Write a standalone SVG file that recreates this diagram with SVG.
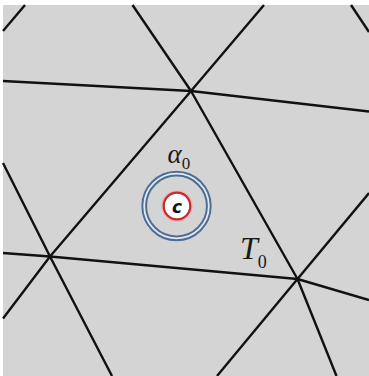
<svg xmlns="http://www.w3.org/2000/svg" width="369" height="376" viewBox="0 0 369 376">
<style>
.e{fill:none;stroke:#111;stroke-width:2.4;stroke-linecap:butt;stroke-linejoin:round}
.lab{font-family:"Liberation Serif","Times New Roman",serif;fill:#1a1a1a}
.it{font-style:italic}
</style>
<rect x="0" y="0" width="369" height="376" fill="#ffffff"/>
<rect x="3" y="5" width="366" height="371" fill="#d4d4d4"/>
<g id="connectors">
<path class="e" d="M3,81 L191,91 L369,111.5"/>
<path class="e" d="M3,253 L50,256.5 L297.5,279 L369,300"/>
<path class="e" d="M132.5,5 L191,91 L297.5,279 L336.5,376"/>
<path class="e" d="M264,5 L191,91 L50,256.5 L3,318.5"/>
<path class="e" d="M3,31 L25,5"/>
<path class="e" d="M3,163 L50,256.5 L112,376"/>
<path class="e" d="M369,193 L297.5,279 L217,376"/>
<path class="e" d="M351,5 L369,32"/>
</g>
<g id="node-alpha">
<circle cx="176.5" cy="206" r="32.3" fill="none" stroke="#e4e9ef" stroke-width="6"/>
<circle cx="176.5" cy="206" r="34.2" fill="none" stroke="#4c6d95" stroke-width="2"/>
<circle cx="176.5" cy="206" r="30.4" fill="none" stroke="#4c6d95" stroke-width="2"/>
</g>
<g id="node-c">
<circle cx="177" cy="206" r="15" fill="none" stroke="#ecb4b4" stroke-width="1.5"/>
<circle cx="177" cy="206" r="13.3" fill="#ffffff" stroke="#c42a2e" stroke-width="2.2"/>
<text x="177" y="212.5" text-anchor="middle" font-family="'DejaVu Sans','Liberation Sans',sans-serif" font-weight="bold" font-style="italic" font-size="17" fill="#111">c</text>
</g>
<g id="label-alpha0">
<text class="lab" x="167.5" y="162.5" font-size="27"><tspan class="it">α</tspan><tspan font-size="17" dy="6">0</tspan></text>
</g>
<g id="label-T0">
<text class="lab" x="240" y="258.5" font-size="32"><tspan class="it">T</tspan><tspan font-size="18" dy="9">0</tspan></text>
</g>
</svg>
